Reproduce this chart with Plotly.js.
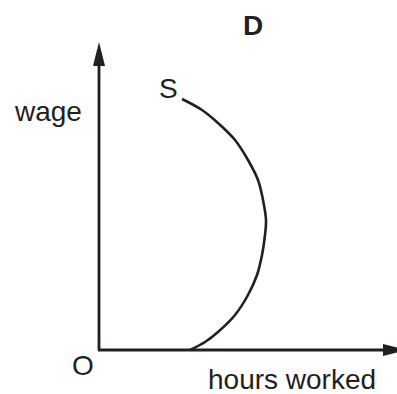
<!DOCTYPE html>
<html>
<head>
<meta charset="utf-8">
<script src="https://cdn.plot.ly/plotly-3.0.1.min.js"></script>
<style>
  html, body { margin: 0; padding: 0; background: #ffffff; }
  #plot { width: 397px; height: 394px; }
</style>
</head>
<body>
<div id="plot"></div>
<script>
//Backward-bending labour supply curve S (hours worked, wage)
var hours = [91, 106, 119, 136, 149, 158, 163, 166, 167, 164, 159, 149, 136, 119, 103, 83];
var wage = [0, 8, 18, 35, 55, 75, 95, 115, 130, 150, 170, 190, 210, 227, 240, 251];

//Axis lengths (arrow tips) and visible window
var axisLen = 308;
var xRange = [-99, 298];
var yRange = [-44, 350];

//Labels
var labelText = ['D', 'S', 'wage', 'O', 'hours worked'];
var labelX = [154, 69, -51, -16, 193];
var labelY = [325, 262, 239, -15, -29];

var ink = '#231f20';
var headLen = 24;
var headHalf = 6;

var data = [
    {
        x: hours,
        y: wage,
        type: 'scatter',
        mode: 'lines',
        line: { color: ink, width: 2.6, shape: 'spline', smoothing: 1 },
        hoverinfo: 'skip',
        showlegend: false
    }
];

//Axes drawn as lines with filled arrowheads
var shapes = [
    { type: 'line', x0: 0, y0: 0, x1: 0, y1: axisLen - headLen + 2, line: { color: ink, width: 2.8 } },
    { type: 'line', x0: -1, y0: 0, x1: axisLen - headLen + 2, y1: 0, line: { color: ink, width: 2.8 } },
    {
        type: 'path',
        path: 'M 0 ' + axisLen + ' L ' + (-headHalf) + ' ' + (axisLen - headLen) + ' L ' + headHalf + ' ' + (axisLen - headLen) + ' Z',
        fillcolor: ink,
        line: { width: 0 }
    },
    {
        type: 'path',
        path: 'M ' + axisLen + ' 0 L ' + (axisLen - headLen) + ' ' + headHalf + ' L ' + (axisLen - headLen) + ' ' + (-headHalf) + ' Z',
        fillcolor: ink,
        line: { width: 0 }
    }
];

var annotations = [];
for (var i = 0; i < labelText.length; i++) {
    annotations.push({
        x: labelX[i],
        y: labelY[i],
        xref: 'x',
        yref: 'y',
        text: labelText[i] == 'D' ? '<b>D</b>' : labelText[i],
        showarrow: false,
        xanchor: 'center',
        yanchor: 'middle',
        font: { family: 'Liberation Sans, Arial, sans-serif', size: 28, color: ink }
    });
}

var layout = {
    width: 397,
    height: 394,
    margin: { l: 0, r: 0, t: 0, b: 0 },
    paper_bgcolor: '#ffffff',
    plot_bgcolor: '#ffffff',
    xaxis: { range: xRange, visible: false, fixedrange: true },
    yaxis: { range: yRange, visible: false, fixedrange: true },
    shapes: shapes,
    annotations: annotations
};

Plotly.newPlot('plot', data, layout, { displayModeBar: false, staticPlot: true });
</script>
</body>
</html>
